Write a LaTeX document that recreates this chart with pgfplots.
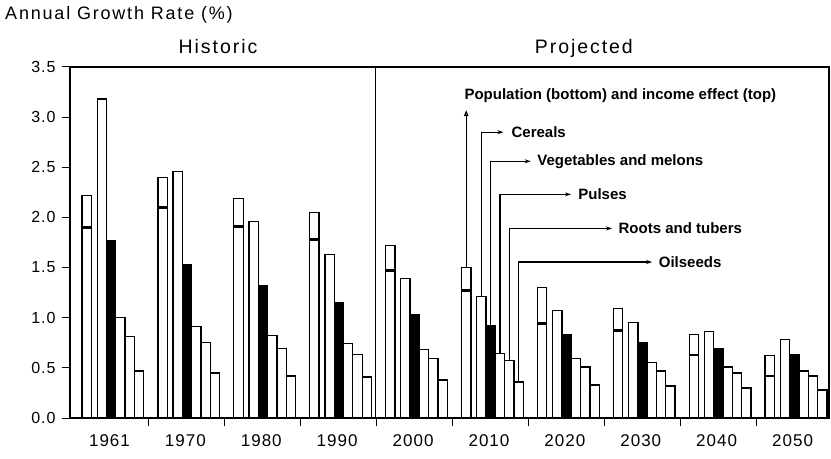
\documentclass[border=0pt]{standalone}
\usepackage{pgfplots}
\pgfplotsset{compat=1.18}
\usepackage{pgfplotstable}
\usepackage{fontspec}
\usetikzlibrary{arrows.meta}
\setmainfont{Liberation Sans}
\newfontfamily\spaced[LetterSpace=10]{Liberation Sans}
\newfontfamily\spacedtick[LetterSpace=6]{Liberation Sans}

\pgfplotstableread{
g tot pop cer veg pul roo oil
0 2.22 1.90 3.18 1.77 1.00 0.81 0.47
1 2.40 2.10 2.46 1.53 0.91 0.75 0.45
2 2.19 1.91 1.96 1.32 0.82 0.69 0.42
3 2.05 1.78 1.63 1.15 0.74 0.63 0.41
4 1.72 1.47 1.39 1.03 0.68 0.59 0.38
5 1.50 1.27 1.21 0.92 0.64 0.57 0.36
6 1.30 0.94 1.07 0.83 0.59 0.51 0.33
7 1.09 0.87 0.95 0.75 0.55 0.47 0.32
8 0.83 0.63 0.86 0.69 0.51 0.45 0.30
9 0.62 0.42 0.78 0.63 0.47 0.42 0.28
}\datatable

\begin{document}
\begin{tikzpicture}
\useasboundingbox (-70bp,-41bp) rectangle (761bp,418bp);
\begin{axis}[
  scale only axis,
  width=759bp, height=351bp,
  xmin=0, xmax=10, ymin=0, ymax=3.5,
  clip=false,
  axis line style={line width=1.1bp},
  tick pos=left,
  tick align=outside,
  major tick length=8bp,
  tick style={line width=1bp, black},
  ytick={0,0.5,...,3.5},
  xtick={1.04,2.04,...,9.04},
  xticklabels={},
  extra x ticks={0.52,1.52,...,9.52},
  extra x tick labels={1961,1970,1980,1990,2000,2010,2020,2030,2040,2050},
  extra x tick style={tick style={draw=none}},
  /pgf/number format/assume math mode=true,
  yticklabel style={/pgf/number format/fixed, /pgf/number format/fixed zerofill, /pgf/number format/precision=1, font=\spacedtick\fontsize{16bp}{17bp}\selectfont, xshift=-3bp},
  xticklabel style={font=\spacedtick\fontsize{17bp}{18bp}\selectfont, yshift=-5bp},
  every axis plot/.append style={ybar, bar width=0.123, bar shift=0pt, draw=black, line width=1.3bp},
]
\addplot[fill=white] table[x expr=\thisrow{g}+0.22, y=tot] {\datatable};
\addplot[fill=white] table[x expr=\thisrow{g}+0.42, y=cer] {\datatable};
\addplot[fill=black] table[x expr=\thisrow{g}+0.542, y=veg] {\datatable};
\addplot[fill=white] table[x expr=\thisrow{g}+0.665, y=pul] {\datatable};
\addplot[fill=white] table[x expr=\thisrow{g}+0.788, y=roo] {\datatable};
\addplot[fill=white] table[x expr=\thisrow{g}+0.911, y=oil] {\datatable};
\addplot[only marks, mark=-, mark size=4.3bp, mark options={line width=2.6bp}, ybar=false]
  table[x expr=\thisrow{g}+0.22, y=pop] {\datatable};

\draw[line width=1.1bp] (axis cs:4.03,0) -- (axis cs:4.03,3.5);

\node[anchor=base west, inner sep=0, font=\spaced\fontsize{18bp}{19bp}\selectfont]
  at (axis cs:-0.856,3.97) {Annual Growth Rate (\%)};
\node[anchor=base, inner sep=0, font=\spaced\fontsize{19.5bp}{20bp}\selectfont]
  at (axis cs:1.95,3.63) {Historic};
\node[anchor=base, inner sep=0, font=\spaced\fontsize{19.5bp}{20bp}\selectfont]
  at (axis cs:6.77,3.63) {Projected};

\begin{scope}[line width=1.2bp, every node/.style={anchor=west, inner sep=0, font=\bfseries\fontsize{15bp}{16bp}\selectfont}]
\draw[-{Triangle[open,length=6bp,width=4.5bp]}] (axis cs:5.22,1.50) -- (axis cs:5.22,3.07);
\node at (axis cs:5.19,3.21) {Population (bottom) and income effect (top)};
\draw[-{Stealth[length=6bp,width=4bp]}] (axis cs:5.42,1.21) |- (axis cs:5.71,2.85);
\node at (axis cs:5.81,2.85) {Cereals};
\draw[-{Stealth[length=6bp,width=4bp]}] (axis cs:5.542,0.92) |- (axis cs:6.07,2.56);
\node at (axis cs:6.15,2.56) {Vegetables and melons};
\draw[-{Stealth[length=6bp,width=4bp]}] (axis cs:5.665,0.64) |- (axis cs:6.60,2.23);
\node at (axis cs:6.69,2.23) {Pulses};
\draw[-{Stealth[length=6bp,width=4bp]}] (axis cs:5.788,0.57) |- (axis cs:7.14,1.89);
\node at (axis cs:7.22,1.89) {Roots and tubers};
\draw[-{Stealth[length=6bp,width=4bp]}] (axis cs:5.911,0.36) |- (axis cs:7.67,1.555);
\node at (axis cs:7.75,1.555) {Oilseeds};
\end{scope}
\end{axis}
\end{tikzpicture}
\end{document}
